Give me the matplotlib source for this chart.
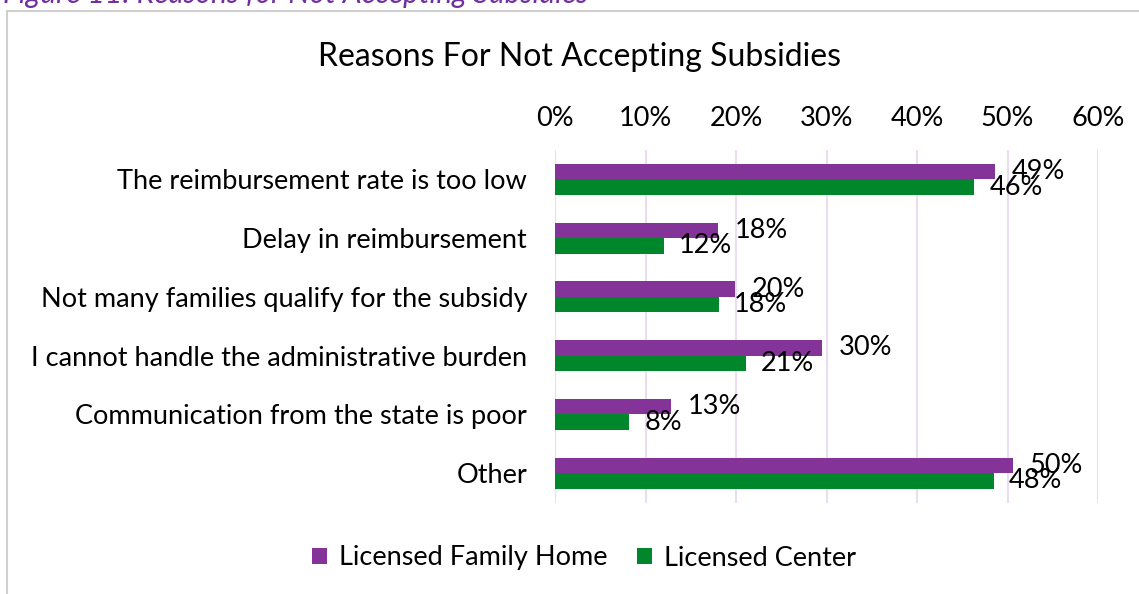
import matplotlib.pyplot as plt
from matplotlib.patches import Rectangle

# Chart data
reasons = [
    "The reimbursement rate is too low",
    "Delay in reimbursement",
    "Not many families qualify for the subsidy",
    "I cannot handle the administrative burden",
    "Communication from the state is poor",
    "Other",
]
family_home = [48.6, 18.0, 19.9, 29.5, 12.8, 50.6]
family_home_labels = ["49%", "18%", "20%", "30%", "13%", "50%"]
center = [46.3, 12.0, 18.1, 21.1, 8.2, 48.5]
center_labels = ["46%", "12%", "18%", "21%", "8%", "48%"]
series_names = ["Licensed Family Home", "Licensed Center"]
tick_values = [0, 10, 20, 30, 40, 50, 60]
tick_labels = ["0%", "10%", "20%", "30%", "40%", "50%", "60%"]

purple = "#843398"
green = "#00862B"
grid_color = "#EBDDF1"

plt.rcParams["font.family"] = ["Lato", "DejaVu Sans"]
fs = 19.5

W, H = 1139, 594
fig = plt.figure(figsize=(W / 100, H / 100), dpi=100)

# chart frame (cut off at the right and bottom like the screenshot)
fig.patches.append(Rectangle((7 / W, -0.1), 1.2, 1 - 10.5 / H + 0.1,
                             transform=fig.transFigure, fill=False,
                             edgecolor="#D0D0D0", linewidth=1.5))

# figure caption cut off at the top
fig.text(3 / W, 1 - 3.5 / H, "Figure 11: Reasons for Not Accepting Subsidies",
         color="#7030A0", fontsize=21.5, style="italic", va="baseline", ha="left")

ax = fig.add_axes([555 / W, 1 - 502.5 / H, 543 / W, 352.5 / H])

h = 0.264
y = list(range(len(reasons)))
ax.barh([i - h / 2 for i in y], family_home, height=h, color=purple, label=series_names[0])
ax.barh([i + h / 2 for i in y], center, height=h, color=green, label=series_names[1])

for i in y:
    ax.annotate(family_home_labels[i], (family_home[i], i - h / 2), xytext=(12, 0),
                textcoords="offset points", va="center", ha="left", fontsize=fs)
    ax.annotate(center_labels[i], (center[i], i + h / 2), xytext=(11, 0),
                textcoords="offset points", va="center", ha="left", fontsize=fs)

ax.set_xlim(0, 60)
ax.set_ylim(5.5, -0.5)
ax.set_xticks(tick_values)
ax.set_xticklabels(tick_labels, fontsize=fs)
ax.xaxis.tick_top()
ax.tick_params(axis="x", length=0, pad=14)
ax.set_yticks(y)
ax.set_yticklabels(reasons, fontsize=fs)
ax.tick_params(axis="y", length=0, pad=20)
ax.grid(axis="x", color=grid_color, linewidth=1.5)
ax.set_axisbelow(True)
for s in ax.spines.values():
    s.set_visible(False)

fig.text(580 / W, 1 - 57 / H, "Reasons For Not Accepting Subsidies",
         fontsize=23, ha="center", va="center")

fig.legend(loc="center", bbox_to_anchor=(584 / W, 1 - 558 / H), ncol=2,
           frameon=False, fontsize=fs, handlelength=0.55, handleheight=0.55,
           handletextpad=0.45, columnspacing=1.1)

fig.savefig("out.png", dpi=100)
